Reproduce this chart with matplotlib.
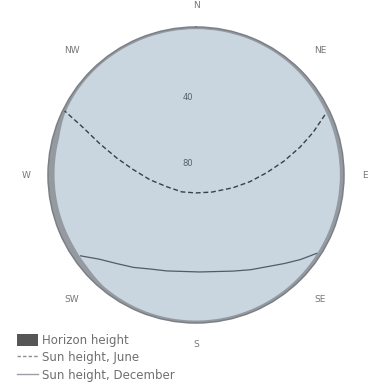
import numpy as np
import matplotlib
matplotlib.use("Agg")
import matplotlib.pyplot as plt
from matplotlib.patches import Patch, PathPatch
from matplotlib.lines import Line2D
from matplotlib.path import Path

# Compass directions around the sky dome
compass_labels = ["N", "NE", "E", "SE", "S", "SW", "W", "NW"]
compass_az = [0, 45, 90, 135, 180, 225, 270, 315]

# Elevation rings labelled inside the dome
ring_labels = ["40", "80"]
ring_elev = [40, 80]

# Horizon profile (azimuth in degrees, horizon elevation in degrees)
horizon_az = [0, 20, 40, 60, 80, 100, 120, 140, 160, 180, 200, 220, 230,
              240, 255, 270, 285, 295, 305, 320, 340, 360]
horizon_elev = [1.3, 1.3, 1.5, 2.2, 2.5, 2.5, 2.3, 1.8, 1.6, 1.5, 1.6, 2.1,
                3.5, 4.0, 4.0, 4.0, 3.8, 2.0, 1.5, 1.3, 1.3, 1.3]

# Sun path in June
june_az = [65, 70, 75, 81, 88, 97, 109, 137, 180, 220, 248, 264, 275, 282,
           288, 293, 296]
june_elev = [3.5, 14.2, 24.5, 35.8, 46.8, 56.9, 66.2, 75.8, 79.1, 76.6, 70.9,
             61.9, 51.6, 40.9, 28.5, 14.8, 1.1]

# Sun path in December
dec_az = [123, 129, 135, 142, 150, 159, 178, 197, 206, 214, 222, 229, 235]
dec_elev = [2.5, 8.3, 13.9, 19.3, 23.5, 27.4, 31.0, 29.0, 26.4, 22.2, 17.6,
            12.0, 4.3]

legend_labels = ["Horizon height", "Sun height, June", "Sun height, December"]

W, H = 373, 385
fig = plt.figure(figsize=(W / 100, H / 100), dpi=100)
cx, cy, rad = 196, 175, 148
ax = fig.add_axes([(cx - rad) / W, (H - cy - rad) / H, 2 * rad / W, 2 * rad / H],
                  projection="polar")
ax.set_theta_zero_location("N")
ax.set_theta_direction(-1)
ax.set_ylim(0, 90)
ax.set_facecolor("#c9d5df")
ax.grid(False)
ax.set_xticks([])
ax.set_yticks([])
ax.spines["polar"].set_color("#7b8086")
ax.spines["polar"].set_linewidth(1.1)


def zen(elev):
    return 90 - np.asarray(elev, dtype=float)


# Horizon band: ring between the dome edge and the horizon line,
# drawn as a path that the polar transform bends along azimuth
th = np.deg2rad(horizon_az)
outer = np.column_stack([th, np.full(len(th), 90.0)])
inner = np.column_stack([th[::-1], zen(horizon_elev)[::-1]])
verts = np.vstack([outer, inner, outer[:1]])
band = Path(verts, closed=True, _interpolation_steps=40)
ax.add_patch(PathPatch(band, facecolor="#959aa0", edgecolor="none",
                       transform=ax.transData, zorder=2))

# Sun paths
ax.plot(np.deg2rad(june_az), zen(june_elev), color="#3a4048", lw=1.0,
        ls=(0, (3.5, 2)), zorder=3)
ax.plot(np.deg2rad(dec_az), zen(dec_elev), color="#525c68", lw=0.9, zorder=3)

# Ring labels
for lab, e in zip(ring_labels, ring_elev):
    ax.annotate(lab, xy=(0, zen(e)), xytext=(-2, 0), textcoords="offset points",
                ha="right", va="top", fontsize=6, color="#5a6068", zorder=4)

# Compass labels
for lab, az in zip(compass_labels, compass_az):
    r = 103 if len(lab) == 1 else 107
    ax.text(np.deg2rad(az), r, lab, ha="center", va="center", fontsize=6.5,
            color="#777777", clip_on=False)

handles = [
    Patch(facecolor="#565656", edgecolor="none"),
    Line2D([], [], color="#8a8f95", lw=1.0, ls=(0, (2.5, 1.5))),
    Line2D([], [], color="#9aa0a6", lw=1.0),
]
fig.legend(handles, legend_labels, loc="upper left",
           bbox_to_anchor=(17 / W, 1 - 334 / H), frameon=False,
           fontsize=8.5, labelcolor="#6f6f6f", handlelength=1.8,
           handleheight=1.1, handletextpad=0.35, labelspacing=0.36,
           borderpad=0, borderaxespad=0)

fig.savefig("out.png", dpi=100, facecolor="white")
